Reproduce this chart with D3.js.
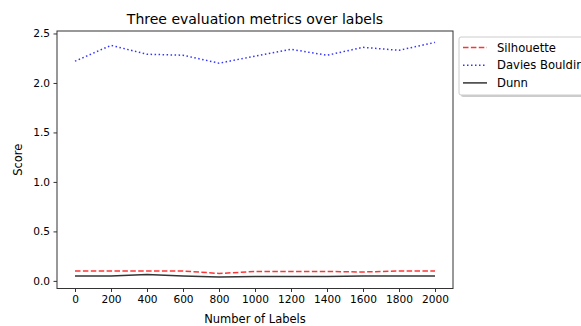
<!DOCTYPE html>
<html>
<head>
<meta charset="utf-8">
<script src="https://cdn.jsdelivr.net/npm/d3@7"></script>
<style>
  body { margin: 0; background: #fff; }
  text { font-family: "DejaVu Sans", sans-serif; fill: #000; }
</style>
</head>
<body>
<div id="chart"></div>
<script>
// data
var labelCounts = [0, 200, 400, 600, 800, 1000, 1200, 1400, 1600, 1800, 2000];
var silhouette = [0.10, 0.10, 0.10, 0.10, 0.075, 0.095, 0.095, 0.095, 0.09, 0.10, 0.10];
var daviesBouldin = [2.22, 2.38, 2.29, 2.28, 2.20, 2.27, 2.34, 2.28, 2.36, 2.33, 2.41];
var dunn = [0.05, 0.05, 0.065, 0.05, 0.04, 0.045, 0.045, 0.045, 0.05, 0.05, 0.05];
var xTicks = [0, 200, 400, 600, 800, 1000, 1200, 1400, 1600, 1800, 2000];
var yTicks = [0.0, 0.5, 1.0, 1.5, 2.0, 2.5];

var series = [
  {name: "Silhouette", values: silhouette, color: "#ff0000", dash: "5.5,2.4"},
  {name: "Davies Bouldin", values: daviesBouldin, color: "#0000ff", dash: "1.5,2.5"},
  {name: "Dunn", values: dunn, color: "#000000", dash: null}
];

var width = 581, height = 326;
var margin = {top: 31, right: 128, bottom: 37.5, left: 57};
var innerWidth = width - margin.left - margin.right,
    innerHeight = height - margin.top - margin.bottom;

var svg = d3.select("#chart").append("svg")
  .attr("width", width)
  .attr("height", height);

var g = svg.append("g")
  .attr("transform", "translate(" + margin.left + "," + margin.top + ")");

var xScale = d3.scaleLinear().domain([-100, 2100]).range([0, innerWidth]);
var yScale = d3.scaleLinear().domain([-0.077, 2.525]).range([innerHeight, 0]);

// x axis
var xAxis = g.append("g")
  .attr("transform", "translate(0," + innerHeight + ")")
  .call(d3.axisBottom(xScale).tickValues(xTicks).tickSize(3.5).tickPadding(3.5).tickFormat(d3.format("d")));
xAxis.select(".domain").remove();
xAxis.selectAll(".tick line").attr("stroke", "#333");
xAxis.selectAll("text").style("font-size", "10.6px").attr("fill", "#000");

// y axis
var yAxis = g.append("g")
  .call(d3.axisLeft(yScale).tickValues(yTicks).tickSize(3.5).tickPadding(3.5).tickFormat(d3.format(".1f")));
yAxis.select(".domain").remove();
yAxis.selectAll(".tick line").attr("stroke", "#333");
yAxis.selectAll("text").style("font-size", "10.6px").attr("fill", "#000");

// frame
g.append("rect")
  .attr("width", innerWidth)
  .attr("height", innerHeight)
  .attr("fill", "none")
  .attr("stroke", "#333")
  .attr("stroke-width", 1);

// lines
var line = d3.line()
  .x(function(d, i) { return xScale(labelCounts[i]); })
  .y(function(d) { return yScale(d); });

series.forEach(function(s) {
  g.append("path")
    .datum(s.values)
    .attr("d", line)
    .attr("fill", "none")
    .attr("stroke", s.color)
    .attr("stroke-opacity", 0.8)
    .attr("stroke-width", 1.5)
    .attr("stroke-dasharray", s.dash);
});

// title and labels
svg.append("text")
  .attr("x", margin.left + innerWidth / 2)
  .attr("y", 24)
  .attr("text-anchor", "middle")
  .style("font-size", "14px")
  .text("Three evaluation metrics over labels");

svg.append("text")
  .attr("x", margin.left + innerWidth / 2)
  .attr("y", 323)
  .attr("text-anchor", "middle")
  .style("font-size", "11.5px")
  .text("Number of Labels");

svg.append("text")
  .attr("transform", "translate(22," + (margin.top + innerHeight / 2) + ") rotate(-90)")
  .attr("text-anchor", "middle")
  .style("font-size", "11.5px")
  .text("Score");

// legend (runs past the right edge, as in the original)
var legend = svg.append("g").attr("transform", "translate(459,37)");
legend.append("rect")
  .attr("x", 2).attr("y", 2)
  .attr("width", 140).attr("height", 58)
  .attr("rx", 2)
  .attr("fill", "#999").attr("fill-opacity", 0.5);
legend.append("rect")
  .attr("width", 140).attr("height", 58)
  .attr("rx", 2)
  .attr("fill", "#fff")
  .attr("stroke", "#ccc");

series.forEach(function(s, i) {
  var y = 10.5 + i * 17.7;
  legend.append("line")
    .attr("x1", 4).attr("x2", 28)
    .attr("y1", y).attr("y2", y)
    .attr("stroke", s.color)
    .attr("stroke-opacity", 0.8)
    .attr("stroke-width", 1.5)
    .attr("stroke-dasharray", s.dash);
  legend.append("text")
    .attr("x", 38)
    .attr("y", y + 4)
    .style("font-size", "11.6px")
    .text(s.name);
});
</script>
</body>
</html>
